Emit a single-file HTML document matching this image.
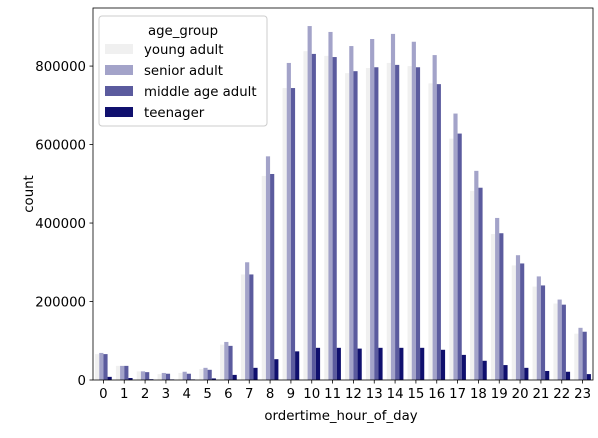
<!DOCTYPE html>
<html><head><meta charset="utf-8"><style>
body{margin:0;background:#fff;font-family:"Liberation Sans","DejaVu Sans",sans-serif}
</style></head><body>
<svg id="c" width="598" height="433" xmlns="http://www.w3.org/2000/svg" font-family="DejaVu Sans, Liberation Sans, sans-serif"></svg>
<script>
const hours=["0","1","2","3","4","5","6","7","8","9","10","11","12","13","14","15","16","17","18","19","20","21","22","23"];
const groups=["young adult","senior adult","middle age adult","teenager"];
const youngAdult=[66000,36000,22000,15000,18000,28000,90000,269000,520000,744000,838000,826000,782000,795000,808000,800000,756000,615000,482000,372000,292000,238000,195000,118000];
const seniorAdult=[69000,36000,22000,18000,21000,31000,97000,300000,570000,808000,902000,887000,851000,869000,882000,862000,828000,679000,533000,413000,318000,264000,205000,133000];
const middleAge=[66000,36000,20000,16000,16000,26000,87000,269000,525000,744000,831000,823000,787000,797000,803000,797000,754000,628000,490000,374000,297000,241000,192000,123000];
const teenager=[8000,5000,2000,1500,1500,4000,13000,31000,53000,73000,82000,82000,80000,82000,82000,82000,77000,64000,49000,38000,31000,23000,21000,15000];
const yTicks=[0,200000,400000,600000,800000];
const series=[youngAdult,seniorAdult,middleAge,teenager];
const colors=["#f0f0f0","#a3a3c9","#5b5b9e","#10106e"];
const L=93,R=593,T=8,B=380,ymax=948000,FS=13.3;
const NS="http://www.w3.org/2000/svg";
const svg=document.getElementById('c');
function mk(t,a,p){const e=document.createElementNS(NS,t);for(const k in a)e.setAttribute(k,a[k]);(p||svg).appendChild(e);return e;}
const bw=(R-L)/hours.length;
const x=i=>L+bw*i;
const y=v=>B-(v/ymax)*(B-T);
const barW=bw*0.8/4;
series.forEach((s,g)=>{s.forEach((v,i)=>{
 const r=mk('rect',{x:x(i)+bw*0.1+g*barW,y:y(v),width:barW,height:B-y(v),fill:colors[g]});
 
 
});});
mk('rect',{x:L,y:T,width:R-L,height:B-T,fill:'none',stroke:'#000','stroke-width':0.8});
hours.forEach((h,i)=>{
 const cx=x(i)+bw/2;
 mk('line',{x1:cx,x2:cx,y1:B,y2:B+3.5,stroke:'#000','stroke-width':0.8});
 const t=mk('text',{x:cx,y:B+18,'font-size':FS,'text-anchor':'middle'});t.textContent=h;
 
 
});
yTicks.forEach(v=>{
 mk('line',{x1:L-3.5,x2:L,y1:y(v),y2:y(v),stroke:'#000','stroke-width':0.8});
 const t=mk('text',{x:L-7,y:y(v)+5,'font-size':FS,'text-anchor':'end'});t.textContent=v;
 
 
});
const xt=mk('text',{x:(L+R)/2-2,y:420,'font-size':FS,'text-anchor':'middle'});xt.textContent='ordertime_hour_of_day';


const yt=mk('text',{x:0,y:0,'font-size':FS,'text-anchor':'middle',transform:'translate(33,'+((T+B)/2)+') rotate(-90)'});yt.textContent='count';


const lg=mk('g',{});


mk('rect',{x:99,y:16,width:168,height:110,rx:3,fill:'#fff','fill-opacity':0.8,stroke:'#ccc'},lg);
const lt=mk('text',{x:183,y:35,'font-size':FS,'text-anchor':'middle'},lg);lt.textContent='age_group';


groups.forEach((g,k)=>{
 const yy=44+k*21;
 const e=mk('g',{},lg);
 
 
 mk('rect',{x:105,y:yy,width:28,height:10,fill:colors[k]},e);
 const t=mk('text',{x:144,y:yy+10,'font-size':FS},e);t.textContent=g;
});
</script>
</body></html>
